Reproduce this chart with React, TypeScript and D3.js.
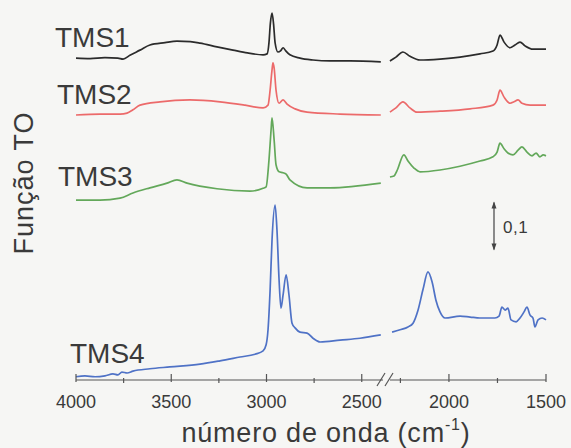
import React from "react";
import * as d3 from "d3";

// wavenumber (cm-1) / TO function value
// left panel 4000-2400, right panel 2300-1500
const tms1Left: [number, number][] = [
  [4000, 0.687], [3926, 0.686], [3848, 0.688], [3780, 0.687], [3753, 0.685],
  [3717, 0.693], [3664, 0.704], [3612, 0.715], [3533, 0.72], [3470, 0.723],
  [3400, 0.722], [3349, 0.719], [3260, 0.711], [3176, 0.704], [3100, 0.698],
  [3018, 0.694], [2997, 0.696], [2987, 0.72], [2980, 0.76], [2971, 0.783],
  [2963, 0.76], [2955, 0.72], [2940, 0.7], [2925, 0.703], [2913, 0.709],
  [2900, 0.703], [2877, 0.694], [2824, 0.687], [2756, 0.683], [2667, 0.681],
  [2562, 0.681], [2400, 0.679],
];
const tms1Right: [number, number][] = [
  [2304, 0.681], [2273, 0.689], [2237, 0.7], [2201, 0.691], [2149, 0.683],
  [2046, 0.685], [1943, 0.689], [1840, 0.696], [1773, 0.702], [1752, 0.715],
  [1737, 0.736], [1716, 0.721], [1685, 0.709], [1660, 0.715], [1634, 0.721],
  [1608, 0.713], [1567, 0.706], [1515, 0.706], [1500, 0.706],
];
const tms2Left: [number, number][] = [
  [4000, 0.566], [3874, 0.568], [3769, 0.568], [3732, 0.57], [3701, 0.577],
  [3664, 0.587], [3559, 0.594], [3402, 0.598], [3244, 0.594], [3113, 0.587],
  [3018, 0.581], [2992, 0.587], [2981, 0.619], [2971, 0.662], [2966, 0.677],
  [2960, 0.666], [2950, 0.619], [2934, 0.591], [2913, 0.598], [2892, 0.589],
  [2850, 0.579], [2787, 0.572], [2614, 0.568], [2400, 0.566],
];
const tms2Right: [number, number][] = [
  [2304, 0.572], [2273, 0.581], [2237, 0.594], [2201, 0.581], [2165, 0.572],
  [2046, 0.574], [1891, 0.579], [1773, 0.587], [1752, 0.598], [1737, 0.619],
  [1716, 0.604], [1685, 0.591], [1665, 0.594], [1644, 0.598], [1624, 0.591],
  [1582, 0.587], [1500, 0.587],
];
const tms3Left: [number, number][] = [
  [4000, 0.385], [3874, 0.385], [3769, 0.389], [3701, 0.4], [3612, 0.411],
  [3522, 0.421], [3470, 0.428], [3417, 0.421], [3260, 0.409], [3087, 0.404],
  [3018, 0.41], [3002, 0.413], [2987, 0.47], [2976, 0.534], [2971, 0.56],
  [2960, 0.513], [2950, 0.46], [2934, 0.445], [2913, 0.443], [2897, 0.44],
  [2877, 0.428], [2787, 0.411], [2666, 0.411], [2400, 0.421],
];
const tms3Right: [number, number][] = [
  [2304, 0.434], [2283, 0.436], [2268, 0.447], [2232, 0.481], [2211, 0.468],
  [2180, 0.453], [2149, 0.445], [2046, 0.449], [1943, 0.457], [1840, 0.468],
  [1773, 0.477], [1752, 0.487], [1737, 0.506], [1716, 0.494], [1696, 0.485],
  [1670, 0.481], [1644, 0.491], [1624, 0.498], [1598, 0.487], [1572, 0.479],
  [1551, 0.485], [1531, 0.477], [1515, 0.481], [1500, 0.479],
];
const tms4Left: [number, number][] = [
  [4000, 0.009], [3953, 0.011], [3900, 0.009], [3848, 0.011], [3806, 0.015],
  [3780, 0.013], [3759, 0.019], [3732, 0.017], [3701, 0.021], [3612, 0.026],
  [3507, 0.03], [3349, 0.036], [3244, 0.043], [3139, 0.051], [3060, 0.057],
  [3018, 0.064], [3002, 0.077], [2992, 0.109], [2981, 0.194], [2971, 0.3],
  [2955, 0.374], [2945, 0.321], [2934, 0.215], [2924, 0.155], [2913, 0.183],
  [2897, 0.226], [2882, 0.183], [2866, 0.123], [2850, 0.113], [2824, 0.104],
  [2787, 0.102], [2756, 0.091], [2719, 0.083], [2614, 0.087], [2509, 0.091],
  [2400, 0.098],
];
const tms4Right: [number, number][] = [
  [2293, 0.104], [2252, 0.109], [2211, 0.115], [2185, 0.123], [2159, 0.151],
  [2134, 0.194], [2108, 0.232], [2087, 0.211], [2067, 0.172], [2046, 0.147],
  [2020, 0.134], [1943, 0.138], [1891, 0.136], [1840, 0.134], [1763, 0.134],
  [1742, 0.138], [1727, 0.157], [1711, 0.151], [1696, 0.155], [1680, 0.13],
  [1654, 0.126], [1634, 0.134], [1613, 0.147], [1598, 0.157], [1582, 0.14],
  [1567, 0.134], [1557, 0.115], [1541, 0.13], [1520, 0.134], [1500, 0.13],
];

const seriesNames = ["TMS1", "TMS2", "TMS3", "TMS4"];
const seriesColors = ["#2b2b2b", "#ec6a6a", "#63a85a", "#4f72c6"];
const leftData = [tms1Left, tms2Left, tms3Left, tms4Left];
const rightData = [tms1Right, tms2Right, tms3Right, tms4Right];
const labelPos: [number, number][] = [[55, 47], [57, 104], [58, 186], [70, 363]];

const majorTicksLeft = [4000, 3500, 3000, 2500];
const majorTicksRight = [2000, 1500];
const minorTicksLeft = [3750, 3250, 2750];
const minorTicksRight = [2250, 1750];
const scaleBarBase = 0.28;
const scaleBarSize = 0.1;

const W = 571;
const H = 448;
const axisY = 380;
const font = "'Liberation Sans', Arial, sans-serif";
const textColor = "#3a3a3a";

export default function App() {
  const xL = d3.scaleLinear().domain([4000, 2400]).range([76, 380.8]);
  const xR = d3.scaleLinear().domain([2350, 1500]).range([381, 546]);
  const y = d3.scaleLinear().domain([0, 0.8]).range([381, 5]);

  const lineL = d3
    .line<[number, number]>()
    .x(d => xL(d[0]))
    .y(d => y(d[1]))
    .curve(d3.curveMonotoneX);
  const lineR = d3
    .line<[number, number]>()
    .x(d => xR(d[0]))
    .y(d => y(d[1]))
    .curve(d3.curveMonotoneX);

  const sbTop = y(scaleBarBase + scaleBarSize);
  const sbBot = y(scaleBarBase);
  const sbX = 494;

  return (
    <svg
      width={W}
      height={H}
      style={{ position: "absolute", left: 0, top: 0 }}
      fontFamily={font}
    >
      <rect width={W} height={H} fill="#f6f6f4" />

      {seriesNames.map((name, i) => (
        <g key={name}>
          <path d={lineL(leftData[i])!} fill="none" stroke={seriesColors[i]} strokeWidth={1.7} strokeLinejoin="round" />
          <path d={lineR(rightData[i])!} fill="none" stroke={seriesColors[i]} strokeWidth={1.7} strokeLinejoin="round" />
          <text x={labelPos[i][0]} y={labelPos[i][1]} fontSize={28} fill={textColor}>
            {name}
          </text>
        </g>
      ))}

      {/* x axis with break */}
      <g stroke="#555" strokeWidth={1.2} fill="none">
        <line x1={xL(4000)} x2={383} y1={axisY} y2={axisY} />
        <line x1={390} x2={xR(1500)} y1={axisY} y2={axisY} />
        <line x1={377} y1={386} x2={385} y2={373} />
        <line x1={385} y1={386} x2={393} y2={373} />
        {majorTicksLeft.map(t => (
          <line key={t} x1={xL(t)} x2={xL(t)} y1={axisY - 6} y2={axisY + 2} />
        ))}
        {majorTicksRight.map(t => (
          <line key={t} x1={xR(t)} x2={xR(t)} y1={axisY - 6} y2={axisY + 2} />
        ))}
        {minorTicksLeft.map(t => (
          <line key={t} x1={xL(t)} x2={xL(t)} y1={axisY - 2} y2={axisY + 3} />
        ))}
        {minorTicksRight.map(t => (
          <line key={t} x1={xR(t)} x2={xR(t)} y1={axisY - 2} y2={axisY + 3} />
        ))}
      </g>
      <g fontSize={18} fill={textColor} textAnchor="middle">
        {majorTicksLeft.map(t => (
          <text key={t} x={xL(t)} y={408}>{t}</text>
        ))}
        {majorTicksRight.map(t => (
          <text key={t} x={xR(t)} y={408}>{t}</text>
        ))}
      </g>

      <text x={326} y={442} fontSize={27} fill={textColor} textAnchor="middle" letterSpacing={0.8}>
        número de onda (cm
        <tspan fontSize={16} dy={-12}>-1</tspan>
        <tspan dy={12}>)</tspan>
      </text>

      <text
        transform="translate(33,183) rotate(-90)"
        fontSize={27}
        fill={textColor}
        textAnchor="middle"
        letterSpacing={1}
      >
        Função TO
      </text>

      {/* scale bar */}
      <g stroke="#444" strokeWidth={1.2} fill="#444">
        <line x1={sbX} x2={sbX} y1={sbTop} y2={sbBot} />
        <path d={`M${sbX},${sbTop - 1} l-2.5,7 l5,0 z`} stroke="none" />
        <path d={`M${sbX},${sbBot + 1} l-2.5,-7 l5,0 z`} stroke="none" />
      </g>
      <text x={503} y={233} fontSize={17} fill={textColor} letterSpacing={0.5}>
        0,1
      </text>
    </svg>
  );
}
